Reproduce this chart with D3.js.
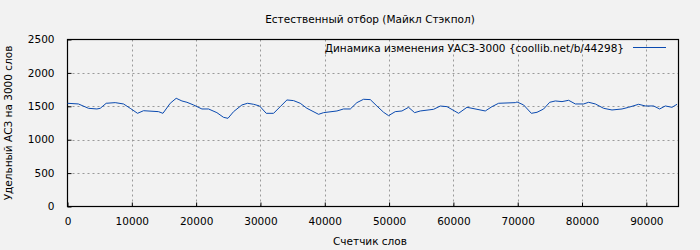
<!DOCTYPE html>
<html>
<head>
    <meta charset="utf-8">
    <title>Естественный отбор</title>
    <script src="https://d3js.org/d3.v7.min.js"></script>
    <style>
        body { margin: 0; background: #f2f2f2; }
        text { font-family: "DejaVu Sans", sans-serif; }
    </style>
</head>
<body>
    <div id="chart"></div>

    <script>
        // значения
        const words = [0, 1700, 3270, 4570, 5090, 6020, 7420, 8710, 9750, 10890, 11820, 14150, 14840, 15970,
            16900, 17790, 18570, 19600, 20900, 21930, 23230, 24260, 24950, 25820, 27120, 28000, 28930, 29860,
            30900, 32040, 33080, 34120, 35150, 36190, 37230, 39040, 39810, 41890, 42920, 43970, 45000, 46030,
            47080, 48110, 49150, 49920, 50960, 52000, 53030, 53970, 54850, 56920, 57960, 59000, 60810, 62110,
            63670, 64960, 66000, 67030, 69630, 69890, 70920, 72120, 73000, 74030, 74970, 75850, 76890, 77920,
            78960, 80250, 81030, 82070, 83360, 84660, 86220, 87250, 88800, 89840, 91130, 92070, 92950, 93990, 94770];
        const uasz = [1545, 1535, 1470, 1460, 1470, 1545, 1555, 1535, 1470, 1395, 1434, 1420, 1395, 1545,
            1620, 1580, 1560, 1520, 1460, 1460, 1405, 1335, 1320, 1420, 1520, 1545, 1530, 1505,
            1395, 1395, 1495, 1595, 1585, 1545, 1470, 1380, 1405, 1430, 1460, 1460, 1555, 1605,
            1600, 1504, 1410, 1360, 1420, 1430, 1485, 1405, 1430, 1455, 1504, 1495, 1395, 1485,
            1455, 1430, 1495, 1545, 1555, 1565, 1520, 1395, 1410, 1460, 1560, 1580, 1570, 1590,
            1535, 1535, 1560, 1535, 1470, 1445, 1460, 1485, 1530, 1505, 1505, 1460, 1505, 1485, 1530];
        const xTicks = [0, 10000, 20000, 30000, 40000, 50000, 60000, 70000, 80000, 90000];
        const yTicks = [0, 500, 1000, 1500, 2000, 2500];

        const title = "Естественный отбор (Майкл Стэкпол)";
        const seriesName = "Динамика изменения УАСЗ-3000 {coollib.net/b/44298}";
        const xLabel = "Счетчик слов";
        const yLabel = "Удельный АСЗ на 3000 слов";

        const W = 700, H = 250;
        const pL = 67.5, pR = 678.5, pT = 39.5, pB = 206.5;
        const lineColor = "#0a4ab0";

        const svg = d3.select("#chart").append("svg")
            .attr("width", W)
            .attr("height", H)
            .style("background", "#f2f2f2");

        const x = d3.scaleLinear().domain([0, 95000]).range([pL, pR]);
        const y = d3.scaleLinear().domain([0, 2500]).range([pB, pT]);

        // сетка
        const grid = svg.append("g")
            .attr("stroke", "#9a9a9a")
            .attr("stroke-width", 1)
            .attr("stroke-dasharray", "2,3");
        grid.selectAll(".gx").data(xTicks.slice(1)).enter().append("line")
            .attr("x1", d => Math.round(x(d)) + 0.5).attr("x2", d => Math.round(x(d)) + 0.5)
            .attr("y1", pT).attr("y2", pB);
        grid.selectAll(".gy").data(yTicks.slice(1, -1)).enter().append("line")
            .attr("x1", pL).attr("x2", pR)
            .attr("y1", d => Math.round(y(d)) + 0.5).attr("y2", d => Math.round(y(d)) + 0.5);

        // оси
        const xAxis = svg.append("g")
            .attr("transform", `translate(0,${pB})`)
            .call(d3.axisBottom(x).tickValues(xTicks).tickSize(-4).tickPadding(11).tickFormat(d3.format("d")));
        const yAxis = svg.append("g")
            .attr("transform", `translate(${pL},0)`)
            .call(d3.axisLeft(y).tickValues(yTicks).tickSize(-4).tickPadding(13).tickFormat(d3.format("d")));
        [xAxis, yAxis].forEach(a => {
            a.select(".domain").remove();
            a.selectAll(".tick line").attr("stroke", "#000");
            a.selectAll("text").attr("font-size", 10.5).attr("fill", "#000")
                .attr("font-family", "DejaVu Sans, sans-serif");
        });
        yAxis.selectAll("text").attr("dy", "0.3em");
        xAxis.selectAll("text").attr("dy", "0.71em");

        // рамка
        svg.append("rect")
            .attr("x", pL).attr("y", pT)
            .attr("width", pR - pL).attr("height", pB - pT)
            .attr("fill", "none").attr("stroke", "#000").attr("stroke-width", 1.2);

        // линия
        const pts = words.map((w, i) => [w, uasz[i]]);
        svg.append("path")
            .datum(pts)
            .attr("fill", "none")
            .attr("stroke", lineColor)
            .attr("stroke-width", 1)
            .attr("d", d3.line().x(d => x(d[0])).y(d => y(d[1])));

        // легенда
        svg.append("text")
            .attr("x", 624).attr("y", 51.5)
            .attr("text-anchor", "end")
            .attr("font-size", 10.5)
            .text(seriesName);
        svg.append("line")
            .attr("x1", 633).attr("x2", 666)
            .attr("y1", 47.5).attr("y2", 47.5)
            .attr("stroke", lineColor);

        // подписи
        svg.append("text")
            .attr("x", 370).attr("y", 23)
            .attr("text-anchor", "middle")
            .attr("font-size", 10.5)
            .text(title);
        svg.append("text")
            .attr("x", 370).attr("y", 245)
            .attr("text-anchor", "middle")
            .attr("font-size", 10.5)
            .text(xLabel);
        svg.append("text")
            .attr("transform", "translate(12,123) rotate(-90)")
            .attr("text-anchor", "middle")
            .attr("font-size", 10.5)
            .text(yLabel);
    </script>
</body>
</html>
